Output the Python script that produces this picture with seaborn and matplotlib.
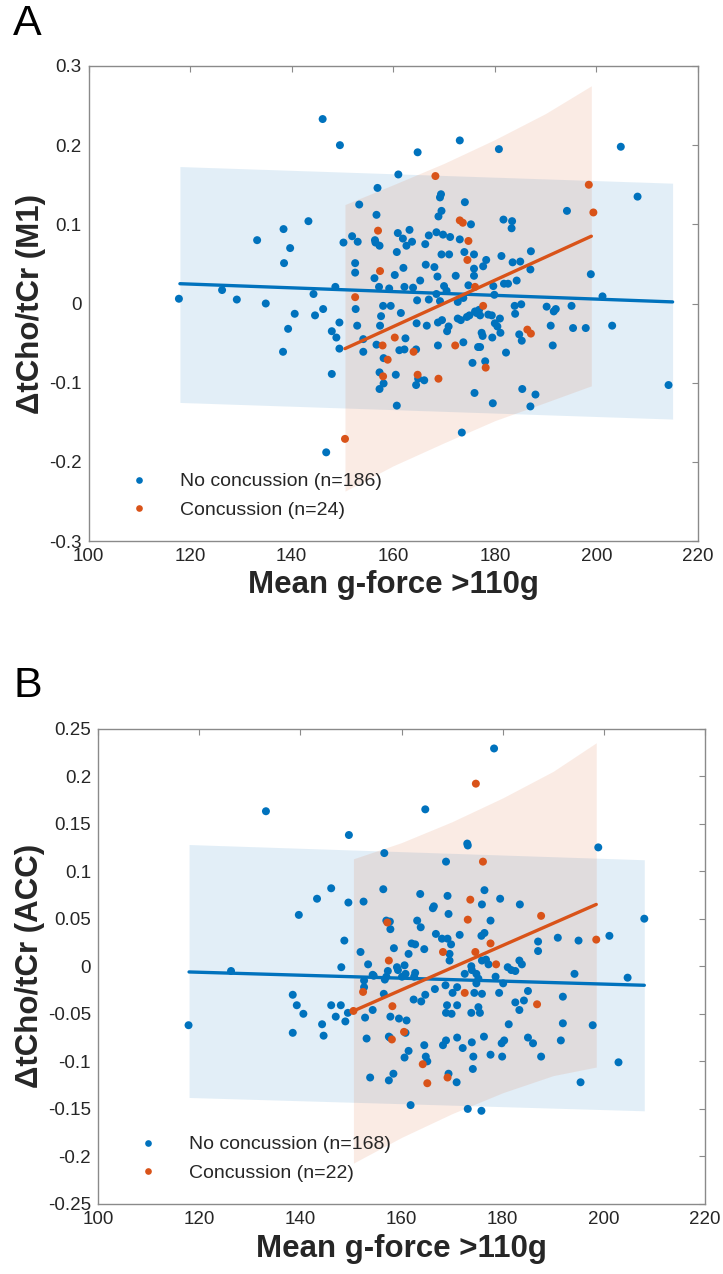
import numpy as np
import pandas as pd
import matplotlib
matplotlib.use("Agg")
import matplotlib.pyplot as plt
import seaborn as sns

# ---------------- data ----------------
# Panel A (M1)
A_nc_x = [146.1,149.5,161.0,156.9,153.3,156.7,143.3,138.4,133.2,139.7,138.5,150.2,151.9,153.0,156.4,156.5,157.3,
          160.9,160.7,152.5,152.5,156.3,160.3,117.8,126.3,129.2,134.9,144.3,148.6,140.6,144.6,146.2,149.4,139.3,
          152.6,152.9,157.2,159.2,158.0,159.5,157.6,157.4,
          164.8,173.1,180.8,204.8,208.1,169.4,169.2,174.1,169.5,168.9,194.2,175.3,181.7,183.4,183.3,161.9,163.2,
          163.7,162.6,167.0,168.5,169.8,171.2,173.1,166.3,169.5,171.0,174.0,175.9,166.4,168.1,162.0,175.9,177.7,
          178.3,181.3,183.5,185.0,187.1,187.0,198.9,165.3,168.7,172.3,175.9,170.0,174.8,179.7,181.8,182.6,184.3,
          162.2,163.9,168.5,170.5,201.2,164.7,167.0,169.2,172.7,173.8,179.9,161.5,183.9,185.2,184.0,190.2,191.6,
          192.0,195.1,175.0,176.4,176.9,177.1,179.4,181.0,173.3,172.7,168.8,169.6,170.9,166.6,164.6,180.0,191.0,
          195.4,197.9,203.1,
          147.9,148.8,149.4,138.3,147.9,146.8,154.1,154.1,156.7,162.4,158.1,161.2,162.2,164.5,157.3,160.5,158.1,
          157.3,164.9,166.1,164.5,160.7,170.6,168.8,173.8,174.5,176.1,177.4,177.6,176.7,177.1,175.6,178.1,178.7,
          180.5,179.5,181.1,182.2,176.0,179.6,173.5,184.8,185.3,191.4,185.4,188.0,187.0,214.2]
A_nc_y = [0.233,0.200,0.163,0.146,0.125,0.112,0.104,0.094,0.080,0.070,0.051,0.077,0.085,0.078,0.080,0.077,0.073,
          0.089,0.065,0.051,0.039,0.032,0.036,0.006,0.017,0.005,0.000,0.012,0.021,-0.013,-0.015,-0.007,-0.024,-0.032,
          -0.007,-0.028,0.021,0.019,-0.003,-0.003,-0.016,-0.028,
          0.191,0.206,0.195,0.198,0.135,0.138,0.134,0.128,0.117,0.110,0.117,0.100,0.106,0.104,0.095,0.082,0.093,
          0.078,0.073,0.086,0.090,0.087,0.084,0.081,0.075,0.062,0.062,0.065,0.062,0.049,0.046,0.045,0.044,0.047,
          0.055,0.060,0.052,0.053,0.066,0.043,0.037,0.029,0.034,0.035,0.035,0.022,0.023,0.022,0.025,0.025,0.029,
          0.021,0.020,0.012,0.016,0.009,0.004,0.005,0.003,0.002,0.007,0.011,-0.012,-0.003,-0.001,-0.013,-0.004,-0.010,
          -0.007,-0.003,-0.015,-0.012,-0.008,-0.015,-0.015,-0.019,-0.021,-0.019,-0.024,-0.021,-0.029,-0.028,-0.025,-0.025,-0.028,
          -0.031,-0.031,-0.028,
          -0.035,-0.043,-0.057,-0.061,-0.089,-0.188,-0.045,-0.061,-0.052,-0.044,-0.069,-0.059,-0.058,-0.058,-0.087,-0.090,-0.101,
          -0.108,-0.095,-0.097,-0.103,-0.129,-0.035,-0.053,-0.049,-0.017,-0.010,-0.037,-0.041,-0.055,-0.055,-0.075,-0.073,-0.014,
          -0.029,-0.043,-0.037,-0.062,-0.113,-0.126,-0.163,-0.039,-0.047,-0.053,-0.108,-0.115,-0.130,-0.103]
A_c_x = [157.0,157.4,152.5,168.3,198.5,199.4,173.1,173.7,174.8,174.6,176.1,177.7,150.5,157.9,160.3,158.9,
         164.0,158.0,164.8,168.9,172.2,178.2,186.4,187.1]
A_c_y = [0.092,0.041,0.008,0.161,0.150,0.115,0.105,0.102,0.079,0.055,0.021,-0.003,-0.171,-0.053,-0.043,-0.071,
         -0.061,-0.092,-0.090,-0.095,-0.053,-0.081,-0.033,-0.038]
A_nc_fit_x = [118.0, 215.0]
A_nc_fit_y = [0.025, 0.002]
A_nc_band_x = [118.0, 215.0]
A_nc_band_hi = [0.173, 0.152]
A_nc_band_lo = [-0.125, -0.146]
A_c_fit_x = [150.5, 199.0]
A_c_fit_y = [-0.057, 0.085]
A_c_band_x = [150.5, 160.0, 170.0, 180.0, 190.0, 199.0]
A_c_band_hi = [0.125, 0.150, 0.177, 0.207, 0.240, 0.275]
A_c_band_lo = [-0.237, -0.205, -0.176, -0.148, -0.125, -0.104]

# Panel B (ACC)
B_nc_x = [133.2,149.6,156.6,146.1,143.3,149.5,152.5,156.4,139.7,157.0,157.7,157.8,148.7,151.9,158.5,153.4,148.1,
          126.3,157.3,159.1,159.3,154.5,157.0,
          178.3,164.7,173.0,173.1,198.9,168.8,163.7,169.1,176.4,179.5,183.4,175.9,166.4,166.2,169.3,177.6,208.0,
          163.1,163.8,166.8,168.0,169.1,169.8,171.5,175.8,176.4,187.0,187.0,190.9,195.0,201.1,162.0,162.7,164.5,
          161.4,169.5,169.5,175.9,176.7,177.2,173.8,173.9,174.8,181.0,181.7,182.5,183.3,183.8,194.2,204.7,160.6,
          162.7,160.8,172.5,178.6,
          117.9,138.5,139.3,140.6,138.5,144.3,144.6,146.1,148.0,147.0,148.9,149.4,152.6,152.6,154.3,152.8,154.3,
          153.1,153.8,156.5,156.7,160.1,157.8,159.5,161.0,157.5,157.7,160.8,161.4,160.6,157.5,158.4,161.8,162.5,
          162.4,163.9,164.7,164.5,164.8,165.1,166.6,168.7,168.8,169.9,169.0,171.0,168.2,168.8,171.0,172.1,169.3,
          170.9,173.1,175.8,170.1,171.0,174.4,175.9,174.8,175.2,173.8,175.5,175.2,173.9,174.2,174.1,176.3,177.6,
          179.3,180.1,181.2,179.8,180.3,179.9,182.5,183.3,184.2,185.0,185.0,186.0,187.6,191.9,191.9,191.5,197.8,
          195.4,202.9]
B_nc_y = [0.163,0.138,0.119,0.082,0.071,0.067,0.068,0.081,0.054,0.048,0.047,0.039,0.027,0.015,0.019,0.002,-0.001,
          -0.005,-0.005,-0.001,-0.004,-0.010,-0.011,
          0.229,0.165,0.129,0.127,0.125,0.110,0.076,0.074,0.080,0.071,0.065,0.065,0.063,0.061,0.055,0.048,0.050,
          0.048,0.041,0.034,0.029,0.029,0.023,0.033,0.032,0.035,0.026,0.016,0.030,0.027,0.032,0.024,0.023,0.018,
          0.013,0.013,0.006,0.006,0.007,0.002,0.000,-0.004,-0.008,-0.001,-0.004,-0.005,0.006,0.002,-0.008,-0.012,0.001,
          -0.007,-0.008,-0.008,-0.011,
          -0.062,-0.030,-0.041,-0.050,-0.070,-0.061,-0.073,-0.041,-0.041,-0.053,-0.058,-0.049,-0.015,-0.022,-0.009,-0.054,-0.046,
          -0.076,-0.117,-0.029,-0.014,-0.011,-0.053,-0.055,-0.057,-0.074,-0.075,-0.070,-0.089,-0.096,-0.120,-0.113,-0.146,-0.011,
          -0.035,-0.037,-0.030,-0.083,-0.095,-0.100,-0.024,-0.020,-0.049,-0.050,-0.041,-0.041,-0.083,-0.078,-0.075,-0.086,-0.113,
          -0.122,-0.150,-0.152,-0.028,-0.022,-0.028,-0.029,-0.018,-0.013,-0.049,-0.049,-0.043,-0.080,-0.095,-0.108,-0.074,-0.093,
          -0.028,-0.018,-0.061,-0.081,-0.078,-0.095,-0.038,-0.046,-0.036,-0.026,-0.075,-0.081,-0.095,-0.032,-0.060,-0.078,-0.062,
          -0.122,-0.101]
B_c_x = [157.2,157.5,174.7,176.1,173.6,173.1,187.6,177.6,198.5,168.2,174.6,178.7,150.5,152.4,158.2,158.1,
         160.5,164.2,165.1,169.1,172.5,186.8]
B_c_y = [0.046,0.006,0.192,0.110,0.070,0.049,0.053,0.024,0.028,0.015,0.015,0.002,-0.047,-0.027,-0.042,-0.077,
         -0.069,-0.103,-0.123,-0.117,-0.028,-0.040]
B_nc_fit_x = [118.0, 208.0]
B_nc_fit_y = [-0.006, -0.020]
B_nc_band_x = [118.0, 208.0]
B_nc_band_hi = [0.128, 0.112]
B_nc_band_lo = [-0.138, -0.152]
B_c_fit_x = [150.5, 198.5]
B_c_fit_y = [-0.047, 0.065]
B_c_band_x = [150.5, 160.0, 170.0, 180.0, 190.0, 198.5]
B_c_band_hi = [0.113, 0.130, 0.152, 0.177, 0.205, 0.235]
B_c_band_lo = [-0.207, -0.180, -0.155, -0.133, -0.115, -0.106]

x_ticks = [100, 120, 140, 160, 180, 200, 220]
A_y_ticks = [-0.3, -0.2, -0.1, 0, 0.1, 0.2, 0.3]
A_y_labels = ["-0.3", "-0.2", "-0.1", "0", "0.1", "0.2", "0.3"]
B_y_ticks = [-0.25, -0.2, -0.15, -0.1, -0.05, 0, 0.05, 0.1, 0.15, 0.2, 0.25]
B_y_labels = ["-0.25", "-0.2", "-0.15", "-0.1", "-0.05", "0", "0.05", "0.1", "0.15", "0.2", "0.25"]

# ---------------- style ----------------
sns.set_style("white")
plt.rcParams["font.family"] = ["Liberation Sans", "DejaVu Sans"]

BLUE = "#0072BD"
ORANGE = "#D95319"
TICKC = "#262626"
BOXC = "#8a8a8a"

fig = plt.figure(figsize=(7.23, 12.74), dpi=100)


def panel(rect, nc_x, nc_y, c_x, c_y, nc_fx, nc_fy, nc_bx, nc_hi, nc_lo,
          c_fx, c_fy, c_bx, c_hi, c_lo, yticks, ylabels, ylim, ylabel, n_nc, n_c, letter, letter_y):
    ax = fig.add_axes(rect)
    ax.fill_between(nc_bx, nc_lo, nc_hi, color=BLUE, alpha=0.115, linewidth=0, zorder=1)
    ax.fill_between(c_bx, c_lo, c_hi, color=ORANGE, alpha=0.115, linewidth=0, zorder=1)
    d_nc = pd.DataFrame({"x": nc_x, "y": nc_y})
    d_c = pd.DataFrame({"x": c_x, "y": c_y})
    sns.scatterplot(data=d_nc, x="x", y="y", color=BLUE, s=33, edgecolor="none", ax=ax, zorder=3, legend=False)
    sns.scatterplot(data=d_c, x="x", y="y", color=ORANGE, s=33, edgecolor="none", ax=ax, zorder=3, legend=False)
    sns.lineplot(x=nc_fx, y=nc_fy, color=BLUE, lw=2.4, ax=ax, zorder=4)
    sns.lineplot(x=c_fx, y=c_fy, color=ORANGE, lw=2.4, ax=ax, zorder=4)
    ax.set_xlim(100, 220)
    ax.set_ylim(*ylim)
    ax.set_xticks(x_ticks)
    ax.set_xticklabels([str(t) for t in x_ticks])
    ax.set_yticks(yticks)
    ax.set_yticklabels(ylabels)
    ax.tick_params(direction="in", top=True, right=True, length=4.5, width=0.8,
                   colors=BOXC, labelcolor=TICKC, labelsize=13.5, pad=5)
    for sp in ax.spines.values():
        sp.set_color(BOXC)
        sp.set_linewidth(1.0)
    ax.set_xlabel("Mean g-force >110g", fontsize=22.5, fontweight="bold", color=TICKC, labelpad=4)
    ax.set_ylabel(ylabel, fontsize=22.5, fontweight="bold", color=TICKC, labelpad=2)
    h1 = plt.Line2D([], [], marker="o", ls="none", color=BLUE, markersize=4.8, markeredgewidth=0)
    h2 = plt.Line2D([], [], marker="o", ls="none", color=ORANGE, markersize=4.8, markeredgewidth=0)
    ax.legend([h1, h2], [f"No concussion (n={n_nc})", f"Concussion (n={n_c})"],
              loc="lower left", bbox_to_anchor=(0.035, 0.01), frameon=False, fontsize=14,
              handletextpad=1.5, labelspacing=0.55, handlelength=1.2)
    fig.text(0.018, letter_y, letter, fontsize=31, color="black", va="center", ha="left")
    return ax


panel([88.5 / 723, 1 - 541 / 1274, 609.5 / 723, 475 / 1274],
      A_nc_x, A_nc_y, A_c_x, A_c_y, A_nc_fit_x, A_nc_fit_y, A_nc_band_x, A_nc_band_hi, A_nc_band_lo,
      A_c_fit_x, A_c_fit_y, A_c_band_x, A_c_band_hi, A_c_band_lo,
      A_y_ticks, A_y_labels, (-0.3, 0.3), "ΔtCho/tCr (M1)", 186, 24, "A", 1 - 24 / 1274)

panel([98 / 723, 1 - 1204 / 1274, 607 / 723, 475.5 / 1274],
      B_nc_x, B_nc_y, B_c_x, B_c_y, B_nc_fit_x, B_nc_fit_y, B_nc_band_x, B_nc_band_hi, B_nc_band_lo,
      B_c_fit_x, B_c_fit_y, B_c_band_x, B_c_band_hi, B_c_band_lo,
      B_y_ticks, B_y_labels, (-0.25, 0.25), "ΔtCho/tCr (ACC)", 168, 22, "B", 1 - 686 / 1274)

fig.savefig("out.png", dpi=100)
